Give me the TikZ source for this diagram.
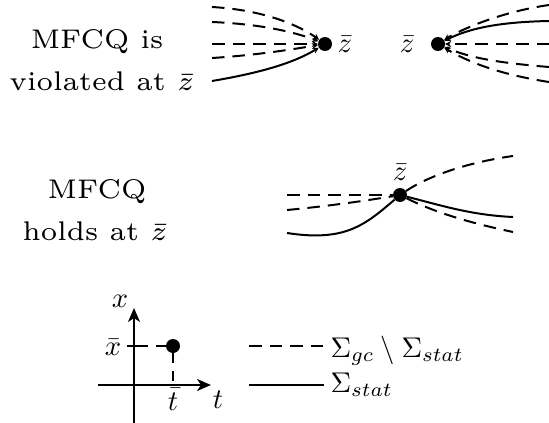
\documentclass[tikz,border=0pt]{standalone}
\usetikzlibrary{arrows.meta}
\begin{document}
\begin{tikzpicture}[x=1pt,y=-1pt,
  dsh/.style={line width=2pt,dash pattern=on 12.5pt off 8pt,-{Stealth[length=6pt,width=6pt]}},
  sol/.style={line width=2pt,-{Stealth[length=6pt,width=6pt]}},
  dshp/.style={line width=2pt,dash pattern=on 12.5pt off 8pt},
  solp/.style={line width=2pt},
  dotnode/.style={circle,fill=black,inner sep=0pt,minimum size=14pt},
  lbl/.style={inner sep=0pt,scale=4.5,font=\fontsize{6}{7}\selectfont},
  mlbl/.style={inner sep=0pt,scale=2.85,font=\fontsize{10}{12}\selectfont},
  axis/.style={line width=2pt,-{Stealth[length=14pt,width=12pt,inset=4pt]}}]
\useasboundingbox (0,0) rectangle (549,423);
% texts
\node[lbl,anchor=base] (t1) at (97,48) {MFCQ is};
\node[lbl,anchor=base] (t2) at (102,90) {violated at $\bar z$};
\node[lbl,anchor=base] (t3) at (97,198) {MFCQ};
\node[lbl,anchor=base] (t4) at (95,240) {holds at $\bar z$};
% top left
\node[dotnode] (p1) at (325,44) {};
\node[mlbl,anchor=base west] (z1) at (337,52) {$\bar z$};
\coordinate (a1) at (212,7);
\coordinate (a2) at (212,22);
\coordinate (a3) at (212,44);
\coordinate (a4) at (212,58);
\coordinate (a5) at (212,81);
\draw[dsh] (a1) .. controls (265,10) and (300,26) .. (p1);
\draw[dsh] (a2) .. controls (260,24) and (295,32) .. (p1);
\draw[dsh] (a3) -- (p1);
\draw[dsh] (a4) .. controls (260,55) and (300,48) .. (p1);
\draw[sol] (a5) .. controls (265,72) and (295,62) .. (p1);
% top right
\node[dotnode] (p2) at (438,44) {};
\node[mlbl,anchor=base east] (z2) at (415,52) {$\bar z$};
\coordinate (b1) at (549,5);
\coordinate (b2) at (549,21);
\coordinate (b3) at (549,44);
\coordinate (b4) at (549,67);
\coordinate (b5) at (549,82);
\draw[dsh] (b1) .. controls (500,12) and (460,30) .. (p2);
\draw[sol] (b2) .. controls (500,22) and (470,28) .. (p2);
\draw[dsh] (b3) -- (p2);
\draw[dsh] (b4) .. controls (500,63) and (470,58) .. (p2);
\draw[dsh] (b5) .. controls (510,76) and (475,66) .. (p2);
% middle
\node[dotnode] (p3) at (400,195) {};
\node[mlbl,anchor=base] (z3) at (400,180) {$\bar z$};
\coordinate (c1) at (287,195);
\coordinate (c2) at (287,210);
\coordinate (c3) at (287,233);
\coordinate (c4) at (513,156);
\coordinate (c5) at (513,217);
\coordinate (c6) at (513,232);
\draw[dshp] (c1) -- (p3);
\draw[dshp] (c2) .. controls (330,206) and (370,200) .. (p3);
\draw[solp] (c3) .. controls (345,242) and (365,225) .. (p3);
\draw[dshp] (p3) .. controls (430,175) and (470,162) .. (c4);
\draw[solp] (p3) .. controls (440,205) and (470,215) .. (c5);
\draw[dshp] (p3) .. controls (440,215) and (480,225) .. (c6);
% axes
\coordinate (o1) at (134,423);
\coordinate (o2) at (134,308);
\coordinate (o3) at (98,385);
\coordinate (o4) at (211,385);
\draw[axis] (o1) -- (o2);
\draw[axis] (o3) -- (o4);
\node[dotnode] (p4) at (173,346) {};
\coordinate (xt) at (127,346);
\coordinate (tt) at (173,389);
\draw[solp,dash pattern=on 21pt off 8pt] (xt) -- (p4);
\draw[solp,dash pattern=on 10pt off 8pt] (p4) -- (tt);
\node[mlbl,anchor=base] (lx) at (120,307) {$x$};
\node[mlbl,anchor=base] (lxb) at (113,355) {$\bar x$};
\node[mlbl,anchor=base] (lt) at (218,408) {$t$};
\node[mlbl,anchor=base] (ltb) at (173,410) {$\bar t$};
% legend
\coordinate (l1) at (249,346);
\coordinate (l2) at (324,346);
\coordinate (l3) at (249,385);
\coordinate (l4) at (324,385);
\draw[dshp] (l1) -- (l2);
\draw[solp] (l3) -- (l4);
\node[mlbl,anchor=base west] (g1) at (330,357) {$\Sigma_{gc}\setminus\Sigma_{stat}$};
\node[mlbl,anchor=base west] (g2) at (330,392) {$\Sigma_{stat}$};
\end{tikzpicture}
\end{document}
